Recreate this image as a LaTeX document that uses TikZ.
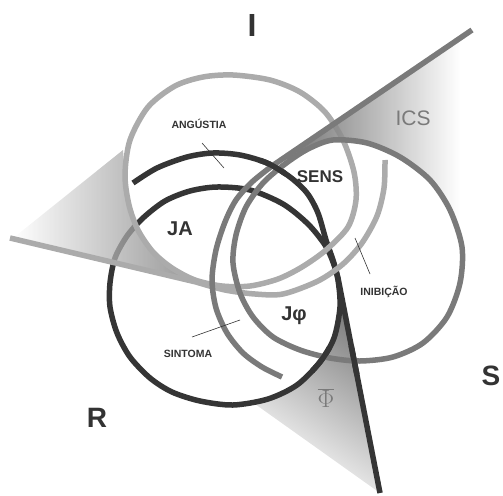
\documentclass[tikz,border=0pt]{standalone}
\usepackage{fontspec}
\setmainfont{Liberation Sans}
\definecolor{ink}{HTML}{333333}
\definecolor{ringR}{HTML}{353535}
\definecolor{ringS}{HTML}{7A7A7A}
\definecolor{ringI}{HTML}{ABABAB}
\newcommand\loopR{plot [smooth cycle] coordinates {(325,245) (333,262) (338,280) (340,307) (334,338) (320,362) (297,385) (268,399) (233,405) (200,401) (172,392) (150,378) (130,357) (117,333) (110,307) (110,283) (115,258) (127,236) (143,218) (165,201) (190,191) (217,187) (250,190) (283,204) (308,224)}}
\newcommand\tailR{plot [smooth] coordinates {(133,183) (157,168) (187,157) (213,153) (240,155) (267,163) (290,177) (307,193) (318,213) (326,240) (333,260) (338,278)} -- (380,493)}
\begin{document}
\begin{tikzpicture}[x=1pt,y=-1pt,
	ring/.style={line width=5.5pt},
	pointer/.style={ink, line width=.6pt},
	biglab/.style={anchor=base, text=ink},
	boldlab/.style={anchor=base, text=ink, font=\bfseries\fontsize{20}{20}\selectfont},
	smalllab/.style={anchor=base, text=ink, font=\bfseries\fontsize{10.5}{10.5}\selectfont}]
\useasboundingbox (0,0) rectangle (503,495);
\shade [top color=black!55, bottom color=white, shading angle=-34] (338,280) -- (380,493) -- (255,404) -- (268,399) -- (297,385) -- (320,362) -- (334,338) -- (340,307) -- cycle;
\draw [ring, ringR] \loopR;
\draw [ring, ringR] \tailR;
\shade [left color=white, right color=black!55, fill opacity=.75] (12,239) -- (123,150) -- (125,175) -- (129,205) -- (138,230) -- (153,252) -- (172,268) -- (196,281) -- cycle;
\draw [ring, ringI] plot [smooth cycle] coordinates {(233,75) (270,80) (300,92) (325,112) (343,140) (354,172) (356,200) (348,227) (326,250) (302,267) (278,279) (250,286) (222,286) (195,280) (172,268) (153,252) (138,230) (129,205) (125,175) (130,140) (148,107) (175,86) (203,77)};
\draw [ring, ringI] (10,238) -- (196,282) -- plot [smooth] coordinates {(196,282) (225,290) (255,294) (283,294) (318,281) (343,264) (362,243) (377,216) (384,188) (385,160)};
\shade [left color=black!65, middle color=black!40, right color=white, fill opacity=.85] (285,160) -- (460,40) -- (460,230) -- (450,210) -- (430,180) -- (400,157) -- (367,143) -- (333,140) -- (308,149) -- cycle;
\draw [ring, ringS] plot [smooth cycle] coordinates {(333,140) (367,143) (400,157) (430,180) (450,210) (462,247) (460,283) (447,317) (423,343) (393,357) (360,361) (330,358) (300,350) (273,337) (253,317) (240,293) (233,263) (236,235) (246,207) (263,183) (285,164) (308,149)};
\draw [ring, ringS] (472,30) -- (272,166) -- plot [smooth] coordinates {(272,166) (252,182) (236,200) (225,222) (216,250) (212,280) (216,308) (227,333) (243,353) (262,367) (282,377)};
\foreach \cx/\cy in {272/168,322/360,354/360}
	{\begin{scope}
	\clip (\cx,\cy) circle [radius=15];
	\draw [ring, ringR] \loopR;
	\draw [ring, ringR] \tailR;
	\end{scope}}
\draw [pointer] (202,143) -- (224,168);
\draw [pointer] (355,238) -- (370,274);
\draw [pointer] (192,337) -- (240,320);
\node [biglab, font=\bfseries\fontsize{32}{32}\selectfont] (labI) at (252,37) {I};
\node [biglab, font=\bfseries\fontsize{28}{28}\selectfont] (labR) at (97,427) {R};
\node [biglab, font=\bfseries\fontsize{28}{28}\selectfont] (labS) at (491,385) {S};
\node [biglab, text=ringS, font=\fontsize{21}{21}\selectfont] (labICS) at (413,125) {ICS};
\node [boldlab, font=\bfseries\fontsize{17}{17}\selectfont] (labSENS) at (320,182) {SENS};
\node [boldlab] (labJA) at (180,235) {JA};
\node [boldlab] (labJphi) at (294,320) {Jφ};
\node [smalllab] (labANG) at (199,128) {ANGÚSTIA};
\node [smalllab] (labINI) at (384,295) {INIBIÇÃO};
\node [smalllab] (labSIN) at (188,357) {SINTOMA};
\node [text=ringS, font=\fontsize{24}{24}\selectfont] (labPHI) at (326,398) {$\overline{\Phi}$};
\end{tikzpicture}
\end{document}
